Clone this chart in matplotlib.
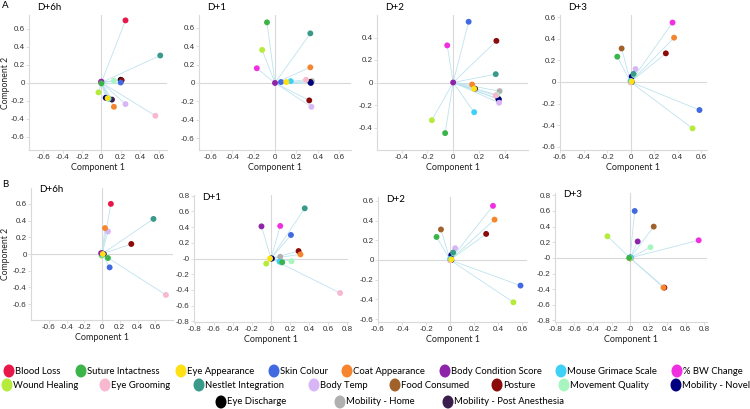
import numpy as np
import matplotlib
matplotlib.use("Agg")
import matplotlib.pyplot as plt
from matplotlib.patches import Ellipse

plt.rcParams['axes.unicode_minus'] = False
plt.rcParams['font.family'] = ['Lato', 'DejaVu Sans']
NARROW = ['Liberation Sans', 'DejaVu Sans']

categories = ["Blood Loss", "Suture Intactness", "Eye Appearance", "Skin Colour",
              "Coat Appearance", "Body Condition Score", "Mouse Grimace Scale",
              "% BW Change", "Wound Healing", "Eye Grooming", "Nestlet Integration",
              "Body Temp", "Food Consumed", "Posture", "Movement Quality",
              "Mobility - Novel", "Eye Discharge", "Mobility - Home",
              "Mobility - Post Anesthesia"]
colors = ["#E8174A", "#3BB54A", "#FFE014", "#4169E1", "#F5862F", "#8E24AA",
          "#3FD0F5", "#F030E0", "#B5EB3A", "#F7B8D0", "#3A9A8A", "#D8B6F5",
          "#A0622A", "#8B0A0A", "#A8F5C0", "#000080", "#000000", "#B0B0B0",
          "#3A1F4E"]
nan = np.nan

# loadings per panel, in category order (x = Component 1, y = Component 2)
a_d6h_x = [0.25, 0.0, 0.065, 0.20, 0.13, 0.0, 0.075, -0.005, -0.03, 0.56, 0.61, 0.25, nan, 0.21, 0.13, 0.045, 0.20, nan, 0.11]
a_d6h_y = [0.69, -0.01, -0.175, 0.0, -0.27, 0.01, -0.18, 0.005, -0.11, -0.37, 0.30, -0.24, nan, 0.025, 0.02, -0.17, 0.03, nan, -0.19]
a_d1_x = [nan, -0.075, 0.106, 0.056, 0.33, 0.0, 0.147, -0.17, -0.12, 0.29, 0.33, 0.34, nan, 0.32, nan, 0.335, 0.33, 0.345, nan]
a_d1_y = [nan, 0.66, 0.01, 0.01, 0.17, 0.0, 0.02, 0.16, 0.36, 0.035, 0.54, -0.26, nan, -0.19, nan, 0.0, 0.01, 0.02, nan]
a_d2_x = [nan, -0.062, 0.163, 0.12, 0.147, 0.0, 0.163, -0.046, -0.165, 0.33, 0.33, 0.356, nan, 0.335, 0.34, 0.354, 0.35, 0.36, 0.17]
a_d2_y = [nan, -0.45, -0.056, 0.54, -0.018, 0.0, -0.264, 0.33, -0.335, -0.115, 0.074, -0.18, nan, 0.37, -0.11, -0.15, -0.145, -0.077, -0.055]
a_d3_x = [nan, -0.113, 0.01, 0.586, 0.37, nan, 0.0, 0.357, 0.527, 0.0, 0.025, 0.042, -0.076, 0.30, 0.03, 0.01, 0.01, nan, nan]
a_d3_y = [nan, 0.234, 0.005, -0.26, 0.41, nan, 0.01, 0.55, -0.43, -0.005, 0.075, 0.12, 0.31, 0.265, 0.065, 0.05, 0.0, nan, nan]
b_d6h_x = [0.10, 0.067, 0.01, 0.086, 0.034, -0.01, 0.0, 0.0, -0.005, 0.72, 0.58, 0.067, nan, 0.33, nan, 0.02, nan, nan, 0.0]
b_d6h_y = [0.60, -0.048, 0.0, -0.16, 0.31, 0.01, -0.01, 0.0, -0.02, -0.49, 0.42, 0.27, nan, 0.12, nan, 0.0, nan, nan, 0.01]
b_d1_x = [nan, 0.118, -0.01, 0.21, 0.31, -0.10, 0.09, 0.097, -0.05, 0.727, 0.355, 0.11, nan, 0.29, 0.216, 0.01, 0.0, 0.097, nan]
b_d1_y = [nan, -0.048, 0.0, 0.30, 0.052, 0.41, -0.04, 0.415, -0.065, -0.44, 0.64, -0.05, nan, 0.095, -0.035, 0.0, 0.0, 0.022, nan]
b_d2_x = [nan, -0.113, 0.01, 0.586, 0.37, nan, 0.0, 0.357, 0.527, 0.0, 0.025, 0.042, -0.076, 0.30, 0.03, 0.01, 0.01, nan, nan]
b_d2_y = [nan, 0.234, 0.005, -0.26, 0.41, nan, 0.01, 0.55, -0.43, -0.005, 0.075, 0.12, 0.31, 0.265, 0.065, 0.05, 0.0, nan, nan]
b_d3_x = [nan, -0.01, -0.005, 0.05, 0.36, 0.082, 0.01, 0.74, -0.244, 0.015, nan, nan, 0.255, 0.37, 0.22, 0.0, 0.0, nan, nan]
b_d3_y = [nan, 0.0, -0.005, 0.60, -0.38, 0.21, 0.005, 0.225, 0.276, 0.0, nan, nan, 0.40, -0.38, 0.136, 0.005, -0.005, nan, nan]

W, H = 750, 409
fig = plt.figure(figsize=(7.5, 4.09), dpi=100)


def box(l, r, t, b):
    return [l / W, 1 - b / H, (r - l) / W, (b - t) / H]


# (title, x, y, pixel box, xlim, ylim, xticks, yticks, ylabel?)
t6 = np.round(np.arange(-0.6, 0.61, 0.2), 1)
t4 = np.round(np.arange(-0.4, 0.41, 0.2), 1)
t8 = np.round(np.arange(-0.8, 0.81, 0.2), 1)
panels = [
    ("D+6h", a_d6h_x, a_d6h_y, (29, 167, 15, 150), (-0.75, 0.68), (-0.75, 0.75), t6, t6, True),
    ("D+1", a_d1_x, a_d1_y, (199, 351, 15, 150), (-0.71, 0.71), (-0.73, 0.74), t6, t6, False),
    ("D+2", a_d2_x, a_d2_y, (377, 528, 15, 150), (-0.59, 0.58), (-0.6, 0.6), t4, t4, False),
    ("D+3", a_d3_x, a_d3_y, (560, 707, 15, 150), (-0.6, 0.65), (-0.63, 0.62), t6, t6, False),
    ("D+6h", b_d6h_x, b_d6h_y, (31, 173, 188, 320), (-0.8, 0.8), (-0.79, 0.79), t6, t6, True),
    ("D+1", b_d1_x, b_d1_y, (194, 348, 195, 322), (-0.81, 0.81), (-0.81, 0.81), t8, t8, False),
    ("D+2", b_d2_x, b_d2_y, (378, 527, 197, 322), (-0.6, 0.64), (-0.63, 0.64), t6, t6, False),
    ("D+3", b_d3_x, b_d3_y, (555, 707, 193, 322), (-0.81, 0.83), (-0.82, 0.83), t8, t8, False),
]

grey = "#D9D9D9"
for title, xs, ys, (l, r, t, b), xl, yl, xt, yt, ylab in panels:
    ax = fig.add_axes(box(l, r, t, b))
    ax.axhline(0, color=grey, lw=0.8, zorder=0)
    ax.axvline(0, color=grey, lw=0.8, zorder=0)
    for i in range(len(categories)):
        if np.isnan(xs[i]):
            continue
        ax.plot([0, xs[i]], [0, ys[i]], color="#BFE3EE", lw=0.6, zorder=1)
    # later categories drawn first so the first ones sit on top
    for i in reversed(range(len(categories))):
        if np.isnan(xs[i]):
            continue
        ax.scatter(xs[i], ys[i], s=18, color=colors[i], edgecolors='none', zorder=2)
    ax.set_xlim(*xl)
    ax.set_ylim(*yl)
    ax.set_xticks(xt)
    ax.set_yticks(yt)
    ax.set_xticklabels([f"{v:g}" for v in xt], family=NARROW, fontsize=5.8, color="#333333")
    ax.set_yticklabels([f"{v:g}" for v in yt], family=NARROW, fontsize=5.8, color="#333333")
    for s in ["top", "right"]:
        ax.spines[s].set_visible(False)
    for s in ["left", "bottom"]:
        ax.spines[s].set_color(grey)
        ax.spines[s].set_linewidth(0.8)
    ax.tick_params(length=2, width=0.6, color=grey, pad=1)
    ax.set_xlabel("Component 1", fontsize=6.5, labelpad=1, color="#222222")
    if ylab:
        fig.text(6 / W, 1 - (t + b) / 2 / H, "Component 2", rotation=90,
                 fontsize=6.2, va='center', ha='center', color="#222222")
    fig.text((l + 8) / W, 1 - (t - 7 if t < 100 else t + 2) / H, title,
             fontsize=7, va='center', ha='left')

fig.text(2 / W, 1 - 6 / H, "A", fontsize=7, va='center', ha='left')
fig.text(2 / W, 1 - 184 / H, "B", fontsize=7, va='center', ha='left')

# legend laid out in pixel space
leg_x = [9, 81, 181, 274, 347, 445, 561, 677,
         7, 105, 199, 314, 395, 497, 564, 676,
         221, 340, 448]
leg_y = [371] * 8 + [385] * 8 + [402] * 3
lax = fig.add_axes([0, 0, 1, 1], zorder=-1)
lax.set_xlim(0, W)
lax.set_ylim(H, 0)
lax.axis('off')
for i, name in enumerate(categories):
    lax.add_patch(Ellipse((leg_x[i], leg_y[i]), 11, 13, color=colors[i], lw=0))
    lax.text(leg_x[i] + 6, leg_y[i], name, fontsize=6.8, va='center', ha='left')

fig.savefig("out.png", dpi=100)
